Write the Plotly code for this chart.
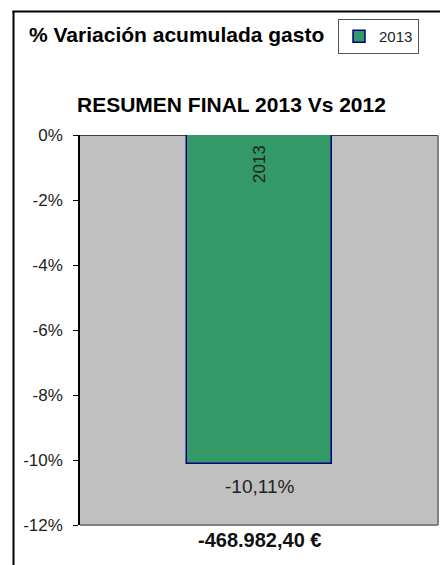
import plotly.graph_objects as go

# ---- data ----
categories = ["2013"]
series_name = "2013"
values = [-10.11]
value_labels = ["-10,11%"]
amount_label = "-468.982,40 €"
tick_vals = [0, -2, -4, -6, -8, -10, -12]
tick_text = ["0%", "-2%", "-4%", "-6%", "-8%", "-10%", "-12%"]
title_text = "% Variación acumulada gasto"
subtitle_text = "RESUMEN FINAL 2013 Vs 2012"

OFF = 8  # default page body margin
W, H = 448 - OFF, 565 - OFF
L, R, T, B = 80, 438, 135, 525  # plot area in page px


def px_x(p):
    return (p - L) / (R - L)


def px_y(p):
    return (B - p) / (B - T)


fig = go.Figure()
fig.add_trace(go.Bar(
    x=categories, y=values, name=series_name,
    marker=dict(color="#339966", line=dict(color="#000080", width=1.5)),
    width=0.405, showlegend=True,
))

cat_idx = 0  # position of the single category on the category axis
annotations = []
annotations.append(dict(x=cat_idx, y=0, xref="x", yref="y", text=series_name,
                        textangle=-90, showarrow=False, yanchor="top", yshift=-8,
                        font=dict(family="Arial", size=17, color="#222")))
annotations.append(dict(x=cat_idx, y=values[0], xref="x", yref="y", text=value_labels[0],
                        showarrow=False, yanchor="top", yshift=-10,
                        font=dict(family="Arial", size=19, color="#222")))
annotations.append(dict(x=cat_idx, y=px_y(540), xref="x", yref="paper", text="<b>" + amount_label + "</b>",
                        showarrow=False, yanchor="middle",
                        font=dict(family="Arial", size=20, color="#111")))
annotations.append(dict(x=px_x(27), y=px_y(34), xref="paper", yref="paper", text="<b>" + title_text + "</b>",
                        showarrow=False, xanchor="left", yanchor="middle",
                        font=dict(family="Arial", size=21, color="#000")))
annotations.append(dict(x=px_x(231), y=px_y(104), xref="paper", yref="paper", text="<b>" + subtitle_text + "</b>",
                        showarrow=False, xanchor="center", yanchor="middle",
                        font=dict(family="Arial", size=21, color="#000")))

shapes = [
    dict(type="line", xref="paper", yref="paper", x0=px_x(12.5), x1=px_x(460), y0=px_y(11.5), y1=px_y(11.5),
         line=dict(color="#000", width=2)),
    dict(type="line", xref="paper", yref="paper", x0=px_x(13.5), x1=px_x(13.5), y0=px_y(11), y1=px_y(600),
         line=dict(color="#000", width=2)),
    dict(type="line", xref="paper", yref="paper", x0=1, x1=1, y0=0, y1=1, line=dict(color="#808080", width=2)),
    dict(type="line", xref="paper", yref="paper", x0=0, x1=1, y0=0, y1=0, line=dict(color="#808080", width=2)),
]

fig.update_layout(
    width=W, height=H,
    margin=dict(l=L - OFF, r=448 - R, t=T - OFF, b=565 - B, pad=0),
    paper_bgcolor="white", plot_bgcolor="#C0C0C0",
    font=dict(family="Arial", color="#222"),
    bargap=0,
    annotations=annotations, shapes=shapes,
    legend=dict(x=px_x(338), y=px_y(19), xanchor="left", yanchor="top",
                bordercolor="#555", borderwidth=1, bgcolor="white",
                font=dict(family="Arial", size=15, color="#222"),
                itemwidth=30, tracegroupgap=0),
    xaxis=dict(type="category", range=[-0.5, 0.5], showticklabels=False, ticks="", showgrid=False,
               zeroline=False, showline=False, fixedrange=True),
    yaxis=dict(range=[-12, 0], tickvals=tick_vals, ticktext=tick_text, ticks="outside",
               ticklen=5, tickcolor="#000", showgrid=False, zeroline=True, zerolinecolor="#404040",
               zerolinewidth=1, showline=True, linecolor="#000", linewidth=1.5,
               ticklabelstandoff=7,
               tickfont=dict(family="Arial", size=17, color="#222")),
)

fig.write_html("out.html")
